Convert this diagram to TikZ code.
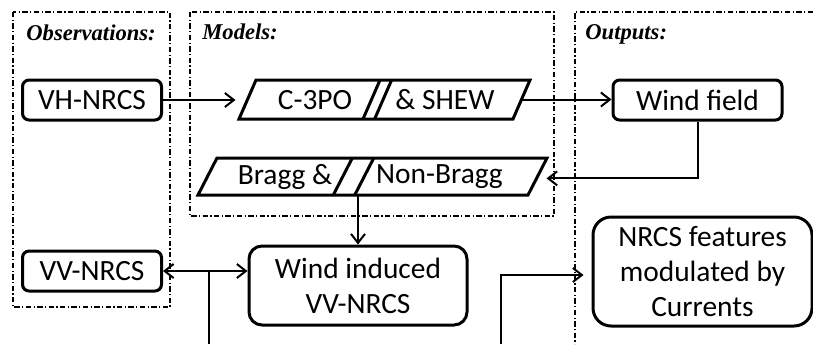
\documentclass[tikz,border=0pt]{standalone}
\usepackage{fontspec}
\setmainfont{Carlito}
\newfontfamily\titlefont{Liberation Serif}
\usetikzlibrary{arrows.meta,calc}
\begin{document}
\begin{tikzpicture}[x=0.5pt,y=-0.5pt,
  txt/.style={font=\fontsize{14.7}{17.5}\selectfont},
  box/.style={txt,draw,line width=1.5pt,inner sep=0pt,align=center},
  parashape/.style={line width=1.5pt,line join=miter},
  lbl/.style={txt,inner sep=0pt},
  slash/.style={line width=1.5pt},
  grp/.style={line width=0.7pt,dash pattern=on 2.7pt off 1.2pt on 0.6pt off 1.2pt},
  grptitle/.style={inner sep=0pt,anchor=base west,font=\titlefont\bfseries\itshape\fontsize{11.3}{13}\selectfont},
  arr/.style={line width=1pt,-{Straight Barb[length=4.5pt,width=7pt]}},
  darr/.style={line width=1pt,{Straight Barb[length=4.5pt,width=7pt]}-{Straight Barb[length=4.5pt,width=7pt]}},
  plain/.style={line width=1pt},
]
\useasboundingbox (0,0) rectangle (813,344);

% group frames
\draw[grp] (13,12) rectangle (170,307);
\draw[grp] (190,12) rectangle (554,216);
\draw[grp] (813,12) -- (575,12) -- (575,344);

\node[grptitle] (tobs) at (26,40) {Observations:};
\node[grptitle] (tmod) at (202,39.5) {Models:};
\node[grptitle] (tout) at (585,39.5) {Outputs:};

% boxes
\node[box,rounded corners=3.3pt,minimum width=69.5pt,minimum height=20pt] (vh) at (92,100) {VH-NRCS};
\node[box,rounded corners=3.3pt,minimum width=69.5pt,minimum height=20pt] (vv) at (92,271) {VV-NRCS};
\node[box,rounded corners=3.3pt,minimum width=84.5pt,minimum height=20pt] (wf) at (697.5,100) {Wind field};
\node[box,rounded corners=6.5pt,minimum width=109pt,minimum height=39.5pt] (wi) at (358,285.5) {Wind induced\\VV-NRCS};
\node[box,rounded corners=9pt,minimum width=109.5pt,minimum height=54.5pt] (nf) at (702.5,271.5) {NRCS features\\modulated by\\Currents};

% parallelogram C-3PO & SHEW
\coordinate (cpbl) at (239,119);
\coordinate (cptl) at (256,80);
\coordinate (cptr) at (530,80);
\coordinate (cpbr) at (513,119);
\draw[parashape] (cpbl) -- (cptl) -- (cptr) -- (cpbr) -- cycle;
\coordinate (cpw) at ($(cpbl)!0.5!(cptl)$);
\coordinate (cpe) at ($(cpbr)!0.5!(cptr)$);
\draw[slash] ($(cpbl)!0.4526!(cpbr)$) -- ($(cptl)!0.4526!(cptr)$);
\draw[slash] ($(cpbl)!0.495!(cpbr)$) -- ($(cptl)!0.495!(cptr)$);
\node[lbl] (cpa) at (315,100) {C-3PO};
\node[lbl] (cpb) at (445,100) {\& SHEW};

% parallelogram Bragg & Non-Bragg
\coordinate (brbl) at (198,195);
\coordinate (brtl) at (217,158);
\coordinate (brtr) at (547,158);
\coordinate (brbr) at (528,195);
\draw[parashape] (brbl) -- (brtl) -- (brtr) -- (brbr) -- cycle;
\coordinate (bre) at ($(brbr)!0.45!(brtr)$);
\draw[slash] ($(brbl)!0.41!(brbr)$) -- ($(brtl)!0.41!(brtr)$);
\draw[slash] ($(brbl)!0.475!(brbr)$) -- ($(brtl)!0.475!(brtr)$);
\node[lbl] (bra) at (285,177) {Bragg \&};
\node[lbl] (brb) at (439.5,177) {Non-Bragg};

% connectors
\draw[arr,shorten >=6pt] (vh.east) -- (vh.east -| cpw);
\draw[arr] (cpe) -- (cpe -| wf.west);
\draw[arr,shorten >=5pt] (wf.south) |- (bre);
\draw[arr] (brbl -| wi.north) -- (wi.north);
\draw[darr] (vv.east) -- (vv.east -| wi.west);
\coordinate (b1) at (209,344);
\coordinate (b2) at (501,344);
\draw[plain] (b1) -- (b1 |- vv.east);
\draw[arr,shorten >=4pt] (b2) |- ($(nf.west)+(0,3.5)$);
\end{tikzpicture}
\end{document}
